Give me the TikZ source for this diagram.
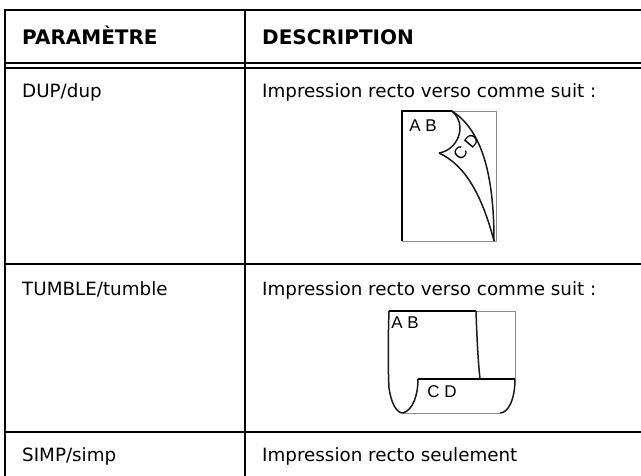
\documentclass[tikz,border=0pt]{standalone}
\usepackage{fontspec}
\setmainfont{DejaVu Sans}
\newfontfamily\figfont{Liberation Sans}
\begin{document}
\begin{tikzpicture}[x=1pt,y=-1pt,
  rule/.style={line width=2pt,black},
  body/.style={anchor=base west,inner sep=0pt,font=\fontsize{18.3}{20}\selectfont},
  head/.style={anchor=base west,inner sep=0pt,font=\fontsize{20}{22}\selectfont\bfseries},
  paper/.style={line width=1.5pt,black!90},
  edge/.style={line width=2pt,black},
  frame/.style={line width=0.8pt,black!45},
  lab/.style={inner sep=0pt,font=\figfont\fontsize{17}{18}\selectfont}]
\useasboundingbox (0,0) rectangle (641,475);
\clip (0,0) rectangle (641,475);
% table rules
\draw[rule] (5,10) -- (660,10);
\draw[rule] (5,63) -- (660,63);
\draw[rule] (5,68) -- (660,68);
\draw[rule] (5,264) -- (660,264);
\draw[rule] (5,432) -- (660,432);
\draw[rule] (5,9) -- (5,490);
\draw[rule] (245,9) -- (245,490);
% texts
\node[head] (h1) at (22,44) {PARAMÈTRE};
\node[head] (h2) at (262,44) {DESCRIPTION};
\node[body] (p1) at (22,97) {DUP/dup};
\node[body] (d1) at (262,97) {Impression recto verso comme suit :};
\node[body] (p2) at (22,295) {TUMBLE/tumble};
\node[body] (d2) at (262,295) {Impression recto verso comme suit :};
\node[body] (p3) at (22,461) {SIMP/simp};
\node[body] (d3) at (262,461) {Impression recto seulement};
% DUP figure
\draw[frame] (452,111) -- (496,111) -- (496,241) -- (402,241);
\draw[edge] (402,241) -- (402,111) -- (452,111);
\draw[paper] (452,111) .. controls (478,128) and (494,165) .. (494,241);
\draw[paper] (494,241) .. controls (482,195) and (465,165) .. (439,153);
\draw[paper] (439,153) .. controls (458,150) and (468,125) .. (452,111);
\node[lab] (ab1) at (423,126) {A B};
\node[lab,rotate=49] (cd1) at (466,147) {C D};
% TUMBLE figure
\draw[frame] (476,311) -- (515,311) -- (515,379);
\draw[frame] (403,413) -- (500,413);
\draw[edge] (476,311) -- (389,311);
\draw[paper] (389,311) .. controls (388,340) and (388,370) .. (389,388) .. controls (391,402) and (396,413) .. (403,413);
\draw[paper] (403,413) .. controls (413,410) and (418,395) .. (418,379);
\draw[edge] (418,379) -- (515,379);
\draw[paper] (515,379) .. controls (515,400) and (508,413) .. (500,413);
\draw[paper] (476,311) .. controls (477,340) and (478,360) .. (480,379);
\node[lab] (ab2) at (405,323) {A B};
\node[lab] (cd2) at (442,392) {C D};
\end{tikzpicture}
\end{document}
